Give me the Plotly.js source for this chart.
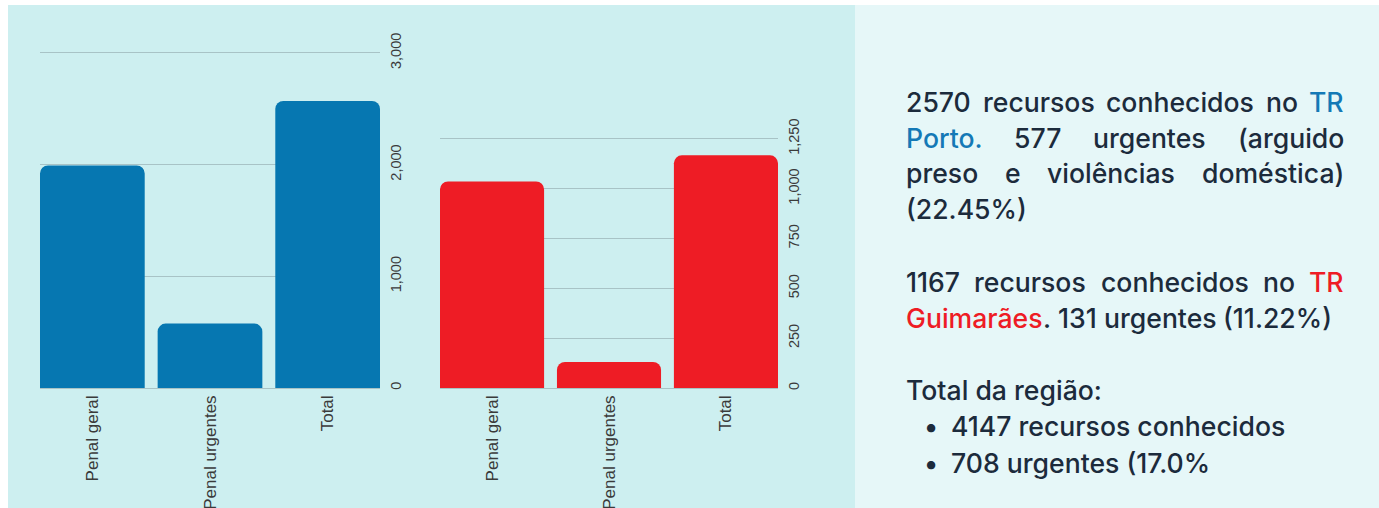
<!DOCTYPE html>
<html>
<head>
<meta charset="utf-8">
<script src="https://cdn.plot.ly/plotly-3.0.1.min.js"></script>
<style>html,body{margin:0;padding:0;background:#fff;}#chart{width:1379px;height:508px;}</style>
</head>
<body>
<div id="chart"></div>
<script>
// ---- data ----
const categories = ['Penal geral', 'Penal urgentes', 'Total'];
const portoValues = [1993, 577, 2570];
const guimaraesValues = [1036, 131, 1167];
const portoTicks = [0, 1000, 2000, 3000];
const guimaraesTicks = [0, 250, 500, 750, 1000, 1250];

// text blocks: each line is a list of [word, colorKey]; justified flag
const paragraphPorto = [
  {words: [['2570','t'],['recursos','t'],['conhecidos','t'],['no','t'],['TR','b']], justify: true},
  {words: [['Porto.','b'],['577','t'],['urgentes','t'],['(arguido','t']], justify: true},
  {words: [['preso','t'],['e','t'],['violências','t'],['doméstica)','t']], justify: true},
  {words: [['(22.45%)','t']], justify: false}
];
const paragraphGuimaraes = [
  {words: [['1167','t'],['recursos','t'],['conhecidos','t'],['no','t'],['TR','r']], justify: true},
  {words: [['Guimarães','r'],['.','t'],['131','t'],['urgentes','t'],['(11.22%)','t']], justify: false, noSpaceAfter: [0]}
];
const totalTitle = 'Total da região:';
const totalBullets = ['4147 recursos conhecidos', '708 urgentes (17.0%'];

// ---- styling ----
const W = 1379, H = 508;
const BLUE = '#0677b1', RED = '#ee1c25';
const TXT = '#1c2b3c', TXT_BLUE = '#1479b6', TXT_RED = '#ee1c25';
const colorMap = {t: TXT, b: TXT_BLUE, r: TXT_RED};
const FONT_FAMILY = 'Inter';
const FONT_SIZE = 26.6;
const FONT_WEIGHT = 500;
const px = x => x / W;
const py = y => 1 - y / H;

const canvas = document.createElement('canvas');
const ctx = canvas.getContext('2d');
ctx.font = FONT_WEIGHT + ' ' + FONT_SIZE + 'px ' + FONT_FAMILY;
const measure = s => ctx.measureText(s).width;
const spaceW = measure(' ');

const annotations = [];
function addWord(text, x, y, color) {
  annotations.push({
    xref: 'paper', yref: 'paper', x: px(x), y: py(y),
    xanchor: 'left', yanchor: 'middle', showarrow: false,
    text: text, borderpad: 0, borderwidth: 0,
    font: {family: FONT_FAMILY, size: FONT_SIZE, color: color, weight: FONT_WEIGHT}
  });
}
const LEFT = 906, RIGHT = 1344;
function addParagraph(lines, yStart, lineH) {
  lines.forEach((line, i) => {
    const y = yStart + i * lineH;
    const widths = line.words.map(w => measure(w[0]));
    const total = widths.reduce((a, b) => a + b, 0);
    const gaps = line.words.length - 1;
    const noSp = line.noSpaceAfter || [];
    let gap = spaceW;
    if (line.justify && gaps > 0) gap = (RIGHT - LEFT - total) / gaps;
    let x = LEFT;
    line.words.forEach((w, k) => {
      addWord(w[0], x, y, colorMap[w[1]]);
      x += widths[k] + (noSp.includes(k) ? 0 : gap);
    });
  });
}
addParagraph(paragraphPorto, 102, 35.7);
addParagraph(paragraphGuimaraes, 282, 36);
addWord(totalTitle, LEFT, 390, TXT);
totalBullets.forEach((b, i) => {
  const y = 426 + i * 36.5;
  addWord('•', 924, y, TXT);
  addWord(b, 951, y, TXT);
});

const axisTickFont = {family: 'Liberation Sans, Arial, sans-serif', size: 14.5, color: '#3a3a3a'};
const catTickFont = {family: 'Liberation Sans, Arial, sans-serif', size: 17, color: '#3a3a3a'};
const GRID = '#a8c3c6';

const traces = [
  {type: 'bar', x: categories, y: portoValues, xaxis: 'x', yaxis: 'y',
   marker: {color: BLUE, cornerradius: 8}, hoverinfo: 'none', showlegend: false},
  {type: 'bar', x: categories, y: guimaraesValues, xaxis: 'x2', yaxis: 'y2',
   marker: {color: RED, cornerradius: 8}, hoverinfo: 'none', showlegend: false}
];

const layout = {
  width: W, height: H,
  margin: {l: 0, r: 0, t: 0, b: 0},
  paper_bgcolor: '#ffffff', plot_bgcolor: 'rgba(0,0,0,0)',
  bargap: 0.11,
  showlegend: false,
  xaxis: {domain: [px(40), px(380)], anchor: 'y', range: [-0.445, 2.445],
          tickangle: -90, tickfont: catTickFont, showgrid: false, ticks: '', showline: false,
          ticklabelstandoff: 3},
  yaxis: {domain: [py(388), py(388 - 3100 * 0.11167)], anchor: 'x', side: 'right',
          range: [0, 3100], tickvals: portoTicks, tickformat: ',d', tickangle: -90,
          tickfont: axisTickFont, gridcolor: GRID, gridwidth: 1, zeroline: true,
          zerolinecolor: GRID, zerolinewidth: 1, ticks: '', showline: false,
          ticklabelstandoff: 5},
  xaxis2: {domain: [px(440), px(778)], anchor: 'y2', range: [-0.445, 2.445],
           tickangle: -90, tickfont: catTickFont, showgrid: false, ticks: '', showline: false,
           ticklabelstandoff: 3},
  yaxis2: {domain: [py(388), py(388 - 1350 * 0.19936)], anchor: 'x2', side: 'right',
           range: [0, 1350], tickvals: guimaraesTicks, tickformat: ',d', tickangle: -90,
           tickfont: axisTickFont, gridcolor: GRID, gridwidth: 1, zeroline: true,
           zerolinecolor: GRID, zerolinewidth: 1, ticks: '', showline: false,
           ticklabelstandoff: 5},
  shapes: [
    {type: 'rect', xref: 'paper', yref: 'paper', layer: 'below',
     x0: px(8), x1: px(855), y0: 0, y1: py(5), fillcolor: '#cdeff0', line: {width: 0}},
    {type: 'rect', xref: 'paper', yref: 'paper', layer: 'below',
     x0: px(855), x1: 1, y0: 0, y1: py(5), fillcolor: '#e6f7f8', line: {width: 0}}
  ],
  annotations: annotations
};

Plotly.newPlot('chart', traces, layout, {displayModeBar: false, staticPlot: true});
</script>
</body>
</html>
